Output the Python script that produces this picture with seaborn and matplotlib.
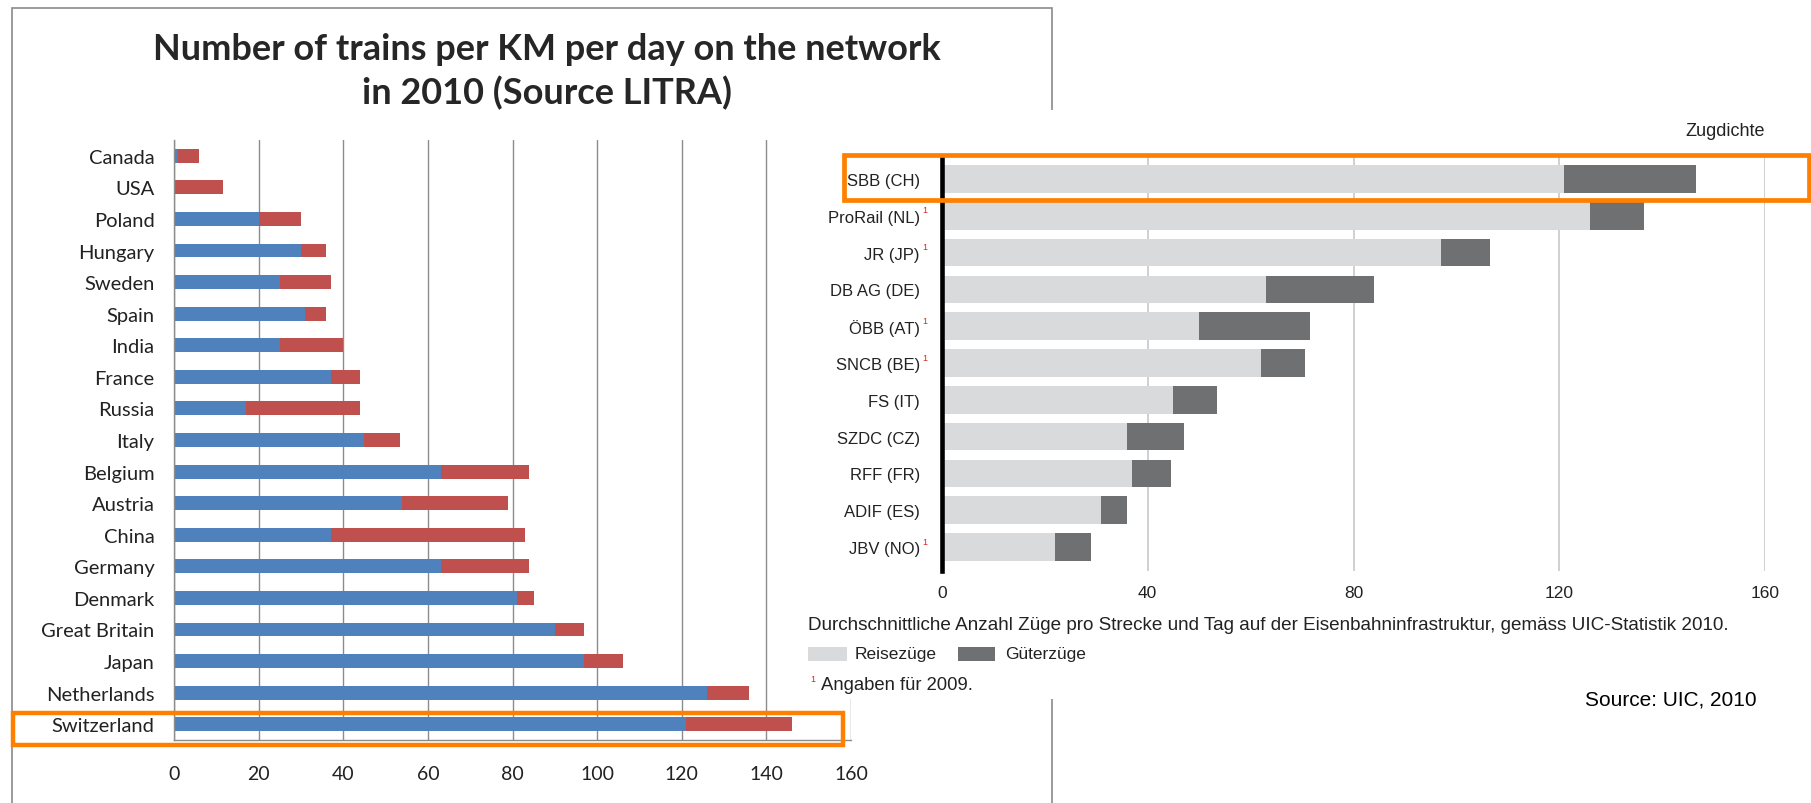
import numpy as np
import pandas as pd
import seaborn as sns
import matplotlib.pyplot as plt
from matplotlib.patches import Rectangle
from matplotlib.transforms import offset_copy

# left chart (LITRA)
countries = ["Canada", "USA", "Poland", "Hungary", "Sweden", "Spain", "India", "France",
             "Russia", "Italy", "Belgium", "Austria", "China", "Germany", "Denmark",
             "Great Britain", "Japan", "Netherlands", "Switzerland"]
passenger = [1, 0, 20, 30, 25, 31, 25, 37, 17, 45, 63, 54, 37, 63, 81, 90, 97, 126, 121]
freight = [5, 11.5, 10, 6, 12, 5, 15, 7, 27, 8.5, 21, 25, 46, 21, 4, 7, 9, 10, 25]
left_ticks = [0, 20, 40, 60, 80, 100, 120, 140, 160]

# right chart (UIC)
infra = ["SBB (CH)", "ProRail (NL)", "JR (JP)", "DB AG (DE)", "ÖBB (AT)", "SNCB (BE)",
         "FS (IT)", "SZDC (CZ)", "RFF (FR)", "ADIF (ES)", "JBV (NO)"]
reise = [121, 126, 97, 63, 50, 62, 45, 36, 37, 31, 22]
gueter = [25.5, 10.5, 9.5, 21, 21.5, 8.5, 8.5, 11, 7.5, 5, 7]
footnote = [0, 1, 1, 0, 1, 1, 0, 0, 0, 0, 1]
right_ticks = [0, 40, 80, 120, 160]

W, H = 1811, 804
BLUE, RED = "#4F81BD", "#C0504D"
LIGHT, DARK = "#D9DADB", "#6F7072"
ORANGE = "#FF8000"
GRID = "#8C8C8C"
RS = ["Liberation Sans", "DejaVu Sans"]


def fx(x):
    return x / W


def fy(y):
    return 1 - y / H


sns.set_style("white")
plt.rcParams["font.family"] = ["Lato", "DejaVu Sans"]

fig = plt.figure(figsize=(W / 100, H / 100), dpi=100)

# ---- left chart ----
left = pd.DataFrame({"country": countries, "passenger": passenger, "freight": freight})
left["total"] = left["passenger"] + left["freight"]

ax = fig.add_axes([fx(174), fy(741), fx(851) - fx(174), fy(141) - fy(741)], zorder=1)
sns.barplot(data=left, x="total", y="country", color=RED, width=0.44,
            saturation=1, linewidth=0, ax=ax)
sns.barplot(data=left, x="passenger", y="country", color=BLUE, width=0.44,
            saturation=1, linewidth=0, ax=ax)
ax.set_xlim(0, 160)
ax.set_xticks(left_ticks)
ax.set_xlabel("")
ax.set_ylabel("")
ax.set_axisbelow(True)
ax.grid(axis="x", color=GRID, linewidth=1)
ax.set_yticks(np.arange(-0.5, len(countries), 1), minor=True)
ax.tick_params(axis="y", which="major", length=0, pad=14, labelsize=14.5, labelcolor="#222222")
ax.tick_params(axis="y", which="minor", length=5, color=GRID, direction="out")
ax.tick_params(axis="x", length=5, color=GRID, direction="out", pad=13,
               labelsize=14, labelcolor="#222222")
for s in ["top", "right"]:
    ax.spines[s].set_visible(False)
for s in ["left", "bottom"]:
    ax.spines[s].set_color(GRID)
    ax.spines[s].set_linewidth(1)

fig.text(fx(547), fy(49), "Number of trains per KM per day on the network",
         ha="center", va="center", fontsize=26, fontweight="bold", zorder=5)
fig.text(fx(547), fy(93), "in 2010 (Source LITRA)",
         ha="center", va="center", fontsize=26, fontweight="bold", zorder=5)

# border of the left picture
fig.patches.append(Rectangle((fx(12), fy(830)), fx(1052) - fx(12), fy(9) - fy(830),
                             transform=fig.transFigure, fill=False,
                             edgecolor="#8A8A8A", linewidth=1.2, zorder=2))

# white card of the right picture
fig.patches.append(Rectangle((fx(790), fy(700)), fx(1811) - fx(790), fy(111) - fy(700),
                             transform=fig.transFigure, facecolor="white",
                             edgecolor="none", zorder=3))

# ---- right chart ----
right = pd.DataFrame({"infra": infra, "reise": reise, "gueter": gueter})
right["total"] = right["reise"] + right["gueter"]

ax2 = fig.add_axes([fx(942), fy(572), fx(1765) - fx(942), fy(158) - fy(572)], zorder=4)
ax2.set_facecolor("none")
sns.barplot(data=right, x="total", y="infra", color=DARK, width=0.75,
            saturation=1, linewidth=0, ax=ax2)
sns.barplot(data=right, x="reise", y="infra", color=LIGHT, width=0.75,
            saturation=1, linewidth=0, ax=ax2)
ax2.set_xlim(0, 160)
ax2.set_ylim(len(infra) - 0.35, -0.6)
ax2.set_xticks(right_ticks)
ax2.set_xlabel("")
ax2.set_ylabel("")
ax2.set_axisbelow(True)
ax2.grid(axis="x", color="#C8C8C8", linewidth=1.2)
ax2.grid(axis="y", visible=False)
for lab in ax2.get_yticklabels() + ax2.get_xticklabels():
    lab.set_fontfamily(RS)
ax2.tick_params(axis="y", length=0, pad=16, labelsize=12, labelcolor="#222222")
ax2.tick_params(axis="x", length=0, pad=10, labelsize=12.5, labelcolor="#222222")
for s in ["top", "right", "bottom"]:
    ax2.spines[s].set_visible(False)
ax2.spines["left"].set_color("black")
ax2.spines["left"].set_linewidth(3.3)

sup_tr = offset_copy(ax2.get_yaxis_transform(), fig=fig, x=-20, y=6, units="dots")
for i, flag in enumerate(footnote):
    if flag:
        ax2.text(0, i, "1", transform=sup_tr, ha="left", va="center", fontsize=6.5,
                 color="#E2231A", family=RS)

fig.text(fx(1765), fy(132), "Zugdichte", ha="right", va="center", fontsize=13,
         color="#222222", family=RS, zorder=5)
fig.text(fx(808), fy(626),
         "Durchschnittliche Anzahl Züge pro Strecke und Tag auf der Eisenbahninfrastruktur, "
         "gemäss UIC-Statistik 2010.",
         ha="left", va="center", fontsize=13.6, color="#222222", family=RS, zorder=5)
fig.patches.append(Rectangle((fx(808), fy(662)), fx(847) - fx(808), fy(648) - fy(662),
                             transform=fig.transFigure, facecolor=LIGHT,
                             edgecolor="none", zorder=5))
fig.text(fx(855), fy(655), "Reisezüge", ha="left", va="center", fontsize=12.5,
         color="#222222", family=RS, zorder=5)
fig.patches.append(Rectangle((fx(958), fy(662)), fx(995) - fx(958), fy(648) - fy(662),
                             transform=fig.transFigure, facecolor=DARK,
                             edgecolor="none", zorder=5))
fig.text(fx(1005), fy(655), "Güterzüge", ha="left", va="center", fontsize=12.5,
         color="#222222", family=RS, zorder=5)
fig.text(fx(810), fy(680), "1", ha="left", va="center", fontsize=6.5,
         color="#E2231A", family=RS, zorder=5)
fig.text(fx(821), fy(686), "Angaben für 2009.", ha="left", va="center", fontsize=13.3,
         color="#222222", family=RS, zorder=5)

fig.text(fx(1585), fy(700), "Source: UIC, 2010", ha="left", va="center", fontsize=15,
         color="black", family=RS, zorder=5)

# orange highlight boxes
fig.patches.append(Rectangle((fx(13), fy(746)), fx(843) - fx(13), fy(714) - fy(746),
                             transform=fig.transFigure, fill=False,
                             edgecolor=ORANGE, linewidth=3.2, zorder=6))
fig.patches.append(Rectangle((fx(844), fy(201)), fx(1809) - fx(844), fy(156) - fy(201),
                             transform=fig.transFigure, fill=False,
                             edgecolor=ORANGE, linewidth=3.4, zorder=6))

fig.savefig("out.png", dpi=100, facecolor="white")
